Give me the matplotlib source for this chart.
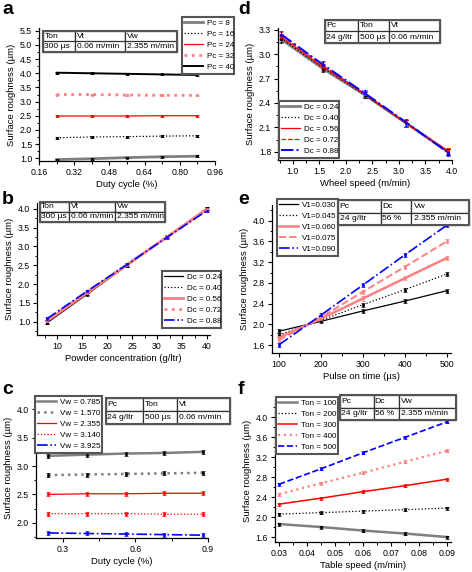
import matplotlib
matplotlib.use('Agg')
import matplotlib.pyplot as plt
from matplotlib.ticker import MultipleLocator, AutoMinorLocator

plt.rcParams['font.family'] = ['Liberation Sans', 'DejaVu Sans']
plt.rcParams['font.size'] = 6

W, H = 472, 572

# ---- data ----
duty = [0.24, 0.40, 0.56, 0.72, 0.88]
a_labels = ['Pc = 8', 'Pc = 16', 'Pc = 24', 'Pc = 32', 'Pc = 40']
a_vals = [
    [0.95, 0.98, 1.02, 1.05, 1.07],
    [1.72, 1.75, 1.76, 1.78, 1.79],
    [2.49, 2.49, 2.49, 2.50, 2.50],
    [3.25, 3.25, 3.23, 3.22, 3.22],
    [4.02, 4.00, 3.98, 3.96, 3.94],
]

conc = [8, 16, 24, 32, 40]
b_labels = ['Dc = 0.24', 'Dc = 0.40', 'Dc = 0.56', 'Dc = 0.72', 'Dc = 0.88']
b_vals = [
    [0.97, 1.73, 2.49, 3.25, 4.01],
    [0.99, 1.75, 2.50, 3.25, 4.00],
    [1.02, 1.77, 2.51, 3.25, 3.99],
    [1.05, 1.79, 2.52, 3.24, 3.97],
    [1.08, 1.81, 2.52, 3.24, 3.95],
]

wheel = [0.785, 1.570, 2.355, 3.140, 3.925]
d_labels = ['Dc = 0.24', 'Dc = 0.40', 'Dc = 0.56', 'Dc = 0.72', 'Dc = 0.88']
d_vals = [
    [3.18, 2.82, 2.50, 2.15, 1.80],
    [3.19, 2.83, 2.50, 2.15, 1.80],
    [3.21, 2.84, 2.51, 2.15, 1.81],
    [3.23, 2.86, 2.51, 2.15, 1.81],
    [3.24, 2.87, 2.52, 2.16, 1.79],
]

pulse = [100, 200, 300, 400, 500]
e_labels = ['V1=0.030', 'V1=0.045', 'V1=0.060', 'V1=0.075', 'V1=0.090']
e_vals = [
    [1.87, 2.06, 2.26, 2.45, 2.65],
    [1.80, 2.08, 2.38, 2.67, 2.97],
    [1.75, 2.11, 2.50, 2.89, 3.28],
    [1.70, 2.14, 2.63, 3.11, 3.60],
    [1.61, 2.18, 2.76, 3.34, 3.91],
]

c_labels = ['Vw = 0.785', 'Vw = 1.570', 'Vw = 2.355', 'Vw = 3.140', 'Vw = 3.925']
c_vals = [
    [3.18, 3.20, 3.22, 3.23, 3.25],
    [2.84, 2.85, 2.86, 2.87, 2.88],
    [2.50, 2.51, 2.51, 2.52, 2.52],
    [2.16, 2.16, 2.16, 2.15, 2.15],
    [1.82, 1.81, 1.80, 1.79, 1.78],
]

table_speed = [0.03, 0.045, 0.06, 0.075, 0.09]
f_labels = ['Ton = 100', 'Ton = 200', 'Ton = 300', 'Ton = 400', 'Ton = 500']
f_vals = [
    [1.86, 1.80, 1.73, 1.67, 1.60],
    [2.06, 2.09, 2.12, 2.15, 2.18],
    [2.26, 2.38, 2.51, 2.63, 2.76],
    [2.46, 2.68, 2.89, 3.11, 3.33],
    [2.66, 2.97, 3.29, 3.60, 3.91],
]

a_table = [['Ton', 'Vt', 'Vw'], ['300 µs', '0.06 m/min', '2.355 m/min']]
b_table = [['Ton', 'Vt', 'Vw'], ['300 µs', '0.06 m/min', '2.355 m/min']]
c_table = [['Pc', 'Ton', 'Vt'], ['24 g/ltr', '500 µs', '0.06 m/min']]
d_table = [['Pc', 'Ton', 'Vt'], ['24 g/ltr', '500 µs', '0.06 m/min']]
e_table = [['Pc', 'Dc', 'Vw'], ['24 g/ltr', '56 %', '2.355 m/min']]
f_table = [['Pc', 'Dc', 'Vw'], ['24 g/ltr', '56 %', '2.355 m/min']]

GRAY = '#7f7f7f'
PINK = '#ff8080'
RED = '#ff0000'
BLUE = '#0000ff'

# (color, linestyle, linewidth) per series
styles = {
    'a': [(GRAY, '-', 2.0), ('k', ':', 0.9), (RED, '-', 0.9), (PINK, ':', 2.0), ('k', '-', 1.4)],
    'b': [('k', '-', 0.9), ('k', ':', 0.9), (PINK, '-', 2.0), (PINK, ':', 2.0), (BLUE, '-.', 1.2)],
    'd': [(GRAY, '-', 2.0), ('k', ':', 0.9), (RED, '-', 0.9), (RED, '--', 0.9), (BLUE, '-.', 1.4)],
    'e': [('k', '-', 0.9), ('k', ':', 0.9), (PINK, '-', 1.8), (PINK, '--', 1.4), (BLUE, '-.', 1.2)],
    'c': [(GRAY, '-', 1.8), (GRAY, ':', 1.8), (RED, '-', 0.9), (RED, ':', 0.9), (BLUE, '-.', 1.2)],
    'f': [(GRAY, '-', 1.8), ('k', ':', 0.9), (RED, '-', 1.1), (PINK, ':', 1.6), (BLUE, '--', 1.2)],
}

fig = plt.figure(figsize=(W / 100, H / 100), dpi=100)


def rect(x0, y0, x1, y1):
    # pixel box -> figure fraction
    return [x0 / W, 1 - y1 / H, (x1 - x0) / W, (y1 - y0) / H]


def make_axes(box, xs, series, key, labels, xlim, ylim, xmaj, ymaj, xlabel, err):
    ax = fig.add_axes(rect(*box))
    for ys, (col, ls, lw), lab in zip(series, styles[key], labels):
        ax.plot(xs, ys, color=col, ls=ls, lw=lw, label=lab)
        mc = 'k' if col == GRAY else col
        ax.errorbar(xs, ys, yerr=err, fmt='s', ms=2.0, mew=0.5, color=mc,
                    ecolor=mc, elinewidth=0.8, capsize=1.5, capthick=0.8)
    ax.set_xlim(*xlim)
    ax.set_ylim(*ylim)
    ax.xaxis.set_major_locator(MultipleLocator(xmaj))
    ax.yaxis.set_major_locator(MultipleLocator(ymaj))
    ax.xaxis.set_minor_locator(AutoMinorLocator(2))
    ax.yaxis.set_minor_locator(AutoMinorLocator(2))
    for s in ['top', 'right']:
        ax.spines[s].set_visible(False)
    for s in ['left', 'bottom']:
        ax.spines[s].set_linewidth(0.9)
    ax.tick_params(which='major', length=3, width=0.8, labelsize=6.3, pad=2)
    ax.tick_params(which='minor', length=1.8, width=0.7)
    ax.set_xlabel(xlabel, fontsize=6.8, labelpad=2)
    ax.set_ylabel('Surface roughness (µm)', fontsize=6.8, labelpad=3)
    return ax


def add_legend(ax, box):
    b = rect(*box)
    leg = ax.legend(loc='upper left', bbox_to_anchor=b, bbox_transform=fig.transFigure,
                    mode='expand', fontsize=5.8, handlelength=2.3, handletextpad=0.5,
                    borderpad=0.3, labelspacing=0.42, borderaxespad=0, fancybox=False,
                    framealpha=1, edgecolor='#555555')
    leg.get_frame().set_linewidth(1.5)
    return leg


def add_table(box, rows, widths):
    tax = fig.add_axes(rect(*box))
    tax.axis('off')
    tb = tax.table(cellText=rows, colWidths=widths, bbox=[0, 0, 1, 1], cellLoc='left')
    tb.auto_set_font_size(False)
    tb.set_fontsize(6.1)
    for (r, c), cell in tb.get_celld().items():
        cell.set_linewidth(0.9)
        cell.set_edgecolor('#333333')
        cell.PAD = 0.04
    tax.add_patch(plt.Rectangle((0, 0), 1, 1, transform=tax.transAxes, fill=False,
                                lw=1.5, ec='#555555', zorder=5, clip_on=False))


# panel a
ax = make_axes((39, 28, 215, 161), duty, a_vals, 'a', a_labels, (0.16, 0.96), (0.9, 5.6),
               0.16, 0.5, 'Duty cycle (%)', 0.03)
add_legend(ax, (182, 17, 234, 70))
add_table((43, 31, 177, 52), a_table, [0.24, 0.37, 0.39])

# panel d
ax = make_axes((278, 28, 452, 160), wheel, d_vals, 'd', d_labels, (0.72, 4.0), (1.7, 3.32),
               0.5, 0.3, 'Wheel speed (m/min)', 0.04)
add_legend(ax, (279, 101, 339, 155))
add_table((325, 20, 440, 43), d_table, [0.29, 0.27, 0.44])

# panel b
ax = make_axes((37, 203, 210, 335), conc, b_vals, 'b', b_labels, (6, 40.6), (0.65, 4.15),
               5, 0.5, 'Powder concentration (g/ltr)', 0.04)
add_legend(ax, (162, 271, 221, 325))
add_table((40, 202, 165, 222), b_table, [0.23, 0.37, 0.40])

# panel e
ax = make_axes((272, 205, 451, 353), pulse, e_vals, 'e', e_labels, (83, 510), (1.45, 4.3),
               100, 0.4, 'Pulse on time (µs)', 0.04)
add_legend(ax, (277, 199, 338, 250))
add_table((338, 200, 469, 225), e_table, [0.33, 0.23, 0.44])

# panel c
ax = make_axes((36, 398, 208, 538), duty, c_vals, 'c', c_labels, (0.19, 0.9), (1.73, 4.2),
               0.3, 0.5, 'Duty cycle (%)', 0.035)
add_legend(ax, (35, 396, 102, 450))
add_table((106, 398, 230, 424), c_table, [0.30, 0.27, 0.43])

# panel f
ax = make_axes((275, 400, 451, 542), table_speed, f_vals, 'f', f_labels, (0.0285, 0.0915), (1.5, 4.35),
               0.01, 0.4, 'Table speed (m/min)', 0.03)
add_legend(ax, (276, 397, 338, 450))
add_table((340, 395, 456, 420), f_table, [0.29, 0.22, 0.49])

# panel letters
for letter, (px, py) in zip('abcdef', [(2, 1), (2, 191), (2, 381), (238, 1), (238, 191), (238, 381)]):
    fig.text(px / W, 1 - py / H, letter, fontsize=14, fontweight='bold', va='top', ha='left')

fig.savefig('out.png', dpi=100)
